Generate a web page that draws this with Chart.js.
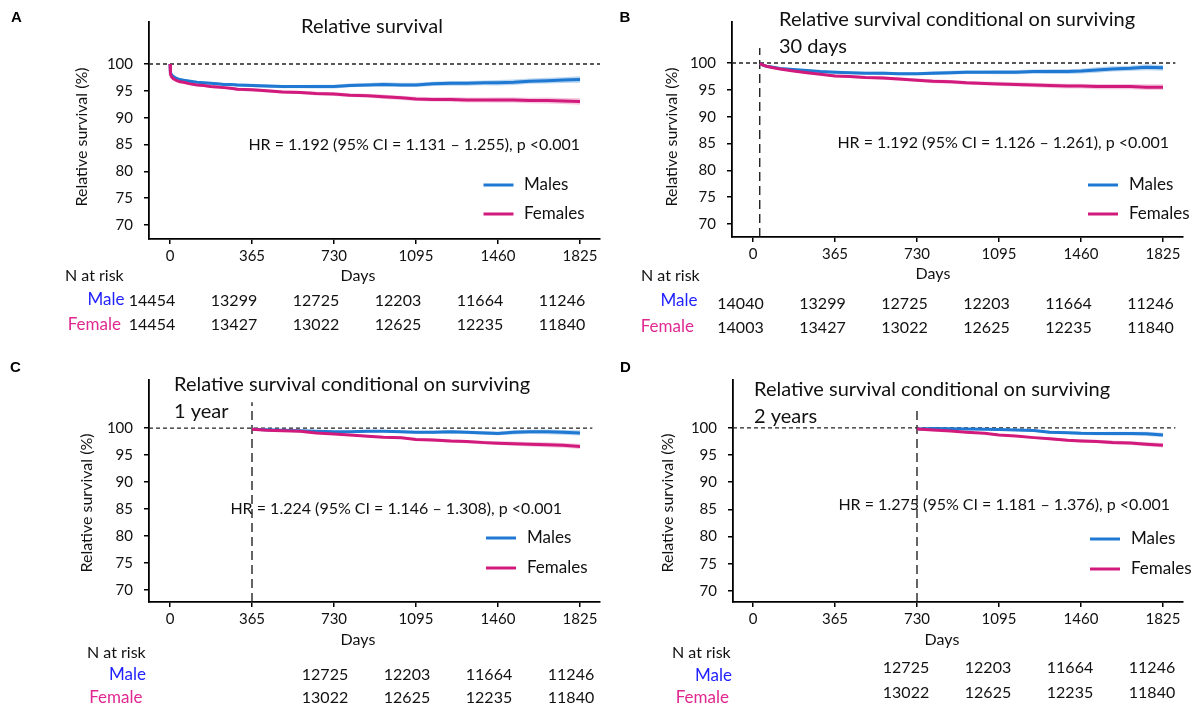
<!DOCTYPE html>
<html><head><meta charset="utf-8">
<script src="https://cdn.jsdelivr.net/npm/chart.js@4.4.0/dist/chart.umd.min.js"></script>
<style>
html,body{margin:0;padding:0;background:#fff;width:1197px;height:711px;overflow:hidden;}
canvas{position:absolute;left:0;top:0;}
</style></head><body>
<canvas id="cA" width="1197" height="711"></canvas>
<canvas id="cB" width="1197" height="711"></canvas>
<canvas id="cC" width="1197" height="711"></canvas>
<canvas id="cD" width="1197" height="711"></canvas>
<script>
// ---------------- DATA ----------------
const xTickDays = [0, 365, 730, 1095, 1460, 1825];
const yTickValues = [70, 75, 80, 85, 90, 95, 100];
const seriesNames = ['Males', 'Females'];
const riskRowNames = ['Male', 'Female'];

// Panel A – relative survival
const daysA   = [0,1,3,7,14,21,30,45,60,90,120,150,180,210,240,270,300,365,430,500,580,650,730,800,880,950,1030,1095,1170,1250,1320,1400,1460,1530,1600,1680,1750,1825];
const maleA   = [100,99.0,98.4,98.0,97.7,97.5,97.3,97.1,97.0,96.8,96.6,96.5,96.4,96.3,96.2,96.2,96.1,96.0,95.9,95.8,95.8,95.8,95.8,96.0,96.1,96.2,96.1,96.1,96.3,96.4,96.4,96.5,96.5,96.6,96.8,96.9,97.0,97.1];
const femaleA = [100,98.8,98.1,97.6,97.3,97.1,96.9,96.7,96.6,96.3,96.1,96.0,95.8,95.7,95.6,95.5,95.3,95.2,95.0,94.8,94.7,94.5,94.4,94.2,94.1,93.9,93.7,93.5,93.4,93.4,93.3,93.3,93.3,93.3,93.2,93.2,93.1,93.0];
const ciA     = [0,0.1,0.1,0.15,0.15,0.15,0.2,0.2,0.2,0.2,0.2,0.25,0.25,0.25,0.25,0.25,0.3,0.3,0.3,0.3,0.3,0.35,0.35,0.35,0.35,0.4,0.4,0.4,0.4,0.45,0.45,0.45,0.5,0.5,0.5,0.55,0.55,0.6];
const riskDaysA   = [0, 365, 730, 1095, 1460, 1825];
const riskMaleA   = [14454, 13299, 12725, 12203, 11664, 11246];
const riskFemaleA = [14454, 13427, 13022, 12625, 12235, 11840];
const titleA = ['Relative survival'];
const hrA = 'HR = 1.192 (95% CI = 1.131 – 1.255), p <0.001';

// Panel B – conditional on surviving 30 days
const condB   = 30;
const daysB   = [30,45,60,90,120,150,180,240,300,365,430,500,580,650,730,800,880,950,1030,1095,1170,1250,1320,1400,1460,1530,1600,1680,1750,1825];
const maleB   = [99.9,99.6,99.4,99.2,99.0,98.9,98.8,98.6,98.4,98.3,98.2,98.1,98.1,98.0,98.0,98.1,98.2,98.3,98.3,98.3,98.3,98.4,98.4,98.4,98.5,98.7,98.9,99.0,99.2,99.1];
const femaleB = [99.9,99.6,99.4,99.1,98.9,98.7,98.5,98.2,97.9,97.6,97.5,97.3,97.2,97.0,96.8,96.6,96.5,96.3,96.2,96.1,96.0,95.9,95.8,95.7,95.7,95.6,95.6,95.6,95.5,95.5];
const ciB     = [0,0.05,0.1,0.1,0.15,0.15,0.15,0.2,0.2,0.25,0.25,0.25,0.3,0.3,0.3,0.35,0.35,0.35,0.35,0.4,0.4,0.4,0.45,0.45,0.45,0.5,0.5,0.5,0.55,0.55];
const riskDaysB   = [0, 365, 730, 1095, 1460, 1825];
const riskMaleB   = [14040, 13299, 12725, 12203, 11664, 11246];
const riskFemaleB = [14003, 13427, 13022, 12625, 12235, 11840];
const titleB = ['Relative survival conditional on surviving', '30 days'];
const hrB = 'HR = 1.192 (95% CI = 1.126 – 1.261), p <0.001';

// Panel C – conditional on surviving 1 year
const condC   = 365;
const daysC   = [365,430,500,580,650,730,800,880,950,1030,1095,1170,1250,1320,1400,1460,1530,1600,1680,1750,1825];
const maleC   = [99.8,99.7,99.6,99.5,99.4,99.3,99.3,99.4,99.4,99.3,99.2,99.2,99.3,99.2,99.1,99.0,99.2,99.3,99.3,99.2,99.1];
const femaleC = [99.8,99.6,99.5,99.4,99.1,98.9,98.7,98.5,98.3,98.2,97.9,97.8,97.6,97.5,97.3,97.2,97.1,97.0,96.9,96.8,96.6];
const ciC     = [0,0.05,0.1,0.1,0.15,0.15,0.2,0.2,0.2,0.25,0.25,0.3,0.3,0.3,0.35,0.35,0.4,0.4,0.45,0.45,0.5];
const riskDaysC   = [730, 1095, 1460, 1825];
const riskMaleC   = [12725, 12203, 11664, 11246];
const riskFemaleC = [13022, 12625, 12235, 11840];
const titleC = ['Relative survival conditional on surviving', '1 year'];
const hrC = 'HR = 1.224 (95% CI = 1.146 – 1.308), p <0.001';

// Panel D – conditional on surviving 2 years
const condD   = 730;
const daysD   = [730,800,880,950,1030,1095,1170,1250,1320,1400,1460,1530,1600,1680,1750,1825];
const maleD   = [99.8,99.9,99.85,99.8,99.75,99.7,99.6,99.5,99.2,99.1,99.0,98.95,98.95,98.95,98.9,98.7];
const femaleD = [99.8,99.6,99.4,99.2,99.0,98.7,98.5,98.2,98.0,97.7,97.6,97.5,97.3,97.2,97.0,96.8];
const ciD     = [0,0.05,0.1,0.1,0.15,0.15,0.2,0.2,0.25,0.25,0.3,0.3,0.35,0.35,0.4,0.4];
const riskDaysD   = [730, 1095, 1460, 1825];
const riskMaleD   = [12725, 12203, 11664, 11246];
const riskFemaleD = [13022, 12625, 12235, 11840];
const titleD = ['Relative survival conditional on surviving', '2 years'];
const hrD = 'HR = 1.275 (95% CI = 1.181 – 1.376), p <0.001';

// ---------------- STYLE ----------------
const MALE = '#1f78d1', FEMALE = '#d11a7c';
const MALE_BAND = 'rgba(31,120,209,0.3)', FEMALE_BAND = 'rgba(209,26,124,0.24)';
const MALE_TXT = '#2222ff', FEMALE_TXT = '#e02890';
const FONT = 'Lato';

function pts(days, vals, ci, sign) {
  return days.map((d, i) => ({x: d, y: vals[i] + (ci ? sign * ci[i] : 0)}));
}

const annot = {
  id: 'annot',
  afterDraw(chart, args, o) {
    const ctx = chart.ctx, xs = chart.scales.x;
    const T = (txt, x, y, font, color, align, rot) => {
      ctx.save();
      ctx.font = font; ctx.fillStyle = color || '#111';
      ctx.textAlign = align || 'left'; ctx.textBaseline = 'middle';
      ctx.translate(x, y); if (rot) ctx.rotate(rot);
      ctx.fillText(txt, 0, 0); ctx.restore();
    };
    const f16 = '16px ' + FONT, f17 = '17px ' + FONT, f20 = '20px ' + FONT;
    T(o.letter, o.letterPos[0], o.letterPos[1], 'bold 15px "Liberation Sans"', '#000', 'center');
    o.title.forEach((t, i) => T(t, o.titlePos[0], o.titlePos[1] + i * o.titleGap, f20, '#111', 'left'));
    T('Relative survival (%)', o.yTitle[0], o.yTitle[1], f16, '#111', 'center', -Math.PI / 2);
    T('Days', o.days[0], o.days[1], f16, '#111', 'center');
    T(o.hr, o.hrPos[0], o.hrPos[1], f16, '#111', 'right');
    // legend
    [[MALE, seriesNames[0]], [FEMALE, seriesNames[1]]].forEach((s, i) => {
      const y = o.leg[2 + i];
      ctx.save(); ctx.strokeStyle = s[0]; ctx.lineWidth = 3;
      ctx.beginPath(); ctx.moveTo(o.leg[0], y); ctx.lineTo(o.leg[0] + 30, y); ctx.stroke(); ctx.restore();
      T(s[1], o.leg[1], y, f17, '#111', 'left');
    });
    // N at risk table
    T('N at risk', o.nRisk[0], o.nRisk[1], f16, '#111', 'left');
    T(riskRowNames[0], o.maleLab[0], o.maleLab[1], f17, MALE_TXT, 'right');
    T(riskRowNames[1], o.femLab[0], o.femLab[1], f17, FEMALE_TXT, 'right');
    o.riskDays.forEach((d, i) => {
      const x = xs.getPixelForValue(d) + o.shift;
      T(String(o.riskMale[i]), x, o.rowY[0], f16, '#111', 'center');
      T(String(o.riskFemale[i]), x, o.rowY[1], f16, '#111', 'center');
    });
  }
};

function makePanel(id, p) {
  const ds = [
    {data: pts(p.days, p.female), borderColor: FEMALE, borderWidth: 3, pointRadius: 0, fill: false},
    {data: pts(p.days, p.male), borderColor: MALE, borderWidth: 3, pointRadius: 0, fill: false},
    {data: [{x: p.x[0], y: 100}, {x: p.hEnd, y: 100}], borderColor: '#222', borderWidth: 1.3, borderDash: [4, 3], pointRadius: 0, fill: false},
    {data: pts(p.days, p.male, p.ci, 1), borderWidth: 0, pointRadius: 0, fill: '+1', backgroundColor: MALE_BAND},
    {data: pts(p.days, p.male, p.ci, -1), borderWidth: 0, pointRadius: 0, fill: false},
    {data: pts(p.days, p.female, p.ci, 1), borderWidth: 0, pointRadius: 0, fill: '+1', backgroundColor: FEMALE_BAND},
    {data: pts(p.days, p.female, p.ci, -1), borderWidth: 0, pointRadius: 0, fill: false}
  ];
  if (p.cond !== undefined) {
    ds.splice(3, 0, {data: [{x: p.cond, y: p.y[0]}, {x: p.cond, y: p.vTop}], borderColor: '#111', borderWidth: 1.3, borderDash: [9, 5], pointRadius: 0, fill: false});
  }
  const a = p.area;
  const YW = 70, XH = 34;
  return new Chart(document.getElementById(id), {
    type: 'line',
    data: {datasets: ds},
    plugins: [annot],
    options: {
      responsive: false, animation: false, devicePixelRatio: 1,
      layout: {padding: {left: a[0] - YW, top: a[1], right: 1197 - a[2], bottom: 711 - a[3] - XH}},
      plugins: {legend: {display: false}, tooltip: {enabled: false}, annot: p.annot},
      scales: {
        x: {
          type: 'linear', min: p.x[0], max: p.x[1],
          afterBuildTicks: s => { s.ticks = xTickDays.map(v => ({value: v})); },
          afterFit: s => { s.height = XH; },
          grid: {drawOnChartArea: false, drawTicks: true, tickLength: 5, color: '#000', lineWidth: 1.5},
          border: {display: true, color: '#000', width: 1.8},
          ticks: {font: {family: FONT, size: 15}, color: '#111', padding: 3, maxRotation: 0, autoSkip: false, callback: v => String(v)}
        },
        y: {
          type: 'linear', min: p.y[0], max: p.y[1],
          afterBuildTicks: s => { s.ticks = yTickValues.map(v => ({value: v})); },
          afterFit: s => { s.width = YW; },
          grid: {drawOnChartArea: false, drawTicks: true, tickLength: 5, color: '#000', lineWidth: 1.5},
          border: {display: true, color: '#000', width: 1.8},
          ticks: {font: {family: FONT, size: 15}, color: '#111', padding: 11, callback: v => String(v)}
        }
      }
    }
  });
}

makePanel('cA', {
  days: daysA, male: maleA, female: femaleA, ci: ciA,
  area: [149, 22, 600, 239], x: [-93.5, 1914], y: [67.39, 107.83], hEnd: 1914,
  annot: {letter: 'A', letterPos: [16.5, 18], title: titleA, titlePos: [301, 27], titleGap: 27,
    yTitle: [82, 137], days: [358, 276], hr: hrA, hrPos: [580, 145], leg: [483.5, 524, 185, 214],
    nRisk: [65, 276], maleLab: [124.5, 300], femLab: [121, 325], riskDays: riskDaysA,
    riskMale: riskMaleA, riskFemale: riskFemaleA, shift: -18, rowY: [301, 325]}
});
makePanel('cB', {
  days: daysB, male: maleB, female: femaleB, ci: ciB, cond: condB, vTop: 102.8,
  area: [732, 22, 1183, 237], x: [-93.5, 1914], y: [67.58, 107.64], hEnd: 1880,
  annot: {letter: 'B', letterPos: [625, 18], title: titleB, titlePos: [779, 20], titleGap: 27,
    yTitle: [672, 137], days: [933, 274], hr: hrB, hrPos: [1169, 143], leg: [1088, 1129, 185, 214],
    nRisk: [641, 276], maleLab: [697.5, 301], femLab: [694, 327], riskDays: riskDaysB,
    riskMale: riskMaleB, riskFemale: riskFemaleB, shift: -12.5, rowY: [304, 328]}
});
makePanel('cC', {
  days: daysC, male: maleC, female: femaleC, ci: ciC, cond: condC, vTop: 104.8,
  area: [149, 380, 600, 602], x: [-93.5, 1914], y: [67.78, 108.9], hEnd: 1880,
  annot: {letter: 'C', letterPos: [15.5, 368], title: titleC, titlePos: [174, 385], titleGap: 27,
    yTitle: [87, 503], days: [358, 640], hr: hrC, hrPos: [562, 509], leg: [486, 527, 538, 568],
    nRisk: [87, 653], maleLab: [146, 675], femLab: [142.5, 698], riskDays: riskDaysC,
    riskMale: riskMaleC, riskFemale: riskFemaleC, shift: -9, rowY: [675, 698]}
});
makePanel('cD', {
  days: daysD, male: maleD, female: femaleD, ci: ciD, cond: condD, vTop: 103.4,
  area: [733, 380, 1183, 602], x: [-89, 1914], y: [67.96, 108.8], hEnd: 1880,
  annot: {letter: 'D', letterPos: [625.5, 368], title: titleD, titlePos: [754, 390], titleGap: 27,
    yTitle: [668, 503], days: [942, 640], hr: hrD, hrPos: [1170, 505], leg: [1090, 1131, 539, 569],
    nRisk: [672, 653], maleLab: [732, 676], femLab: [729, 698], riskDays: riskDaysD,
    riskMale: riskMaleD, riskFemale: riskFemaleD, shift: -11, rowY: [668, 693]}
});
</script>
</body></html>
